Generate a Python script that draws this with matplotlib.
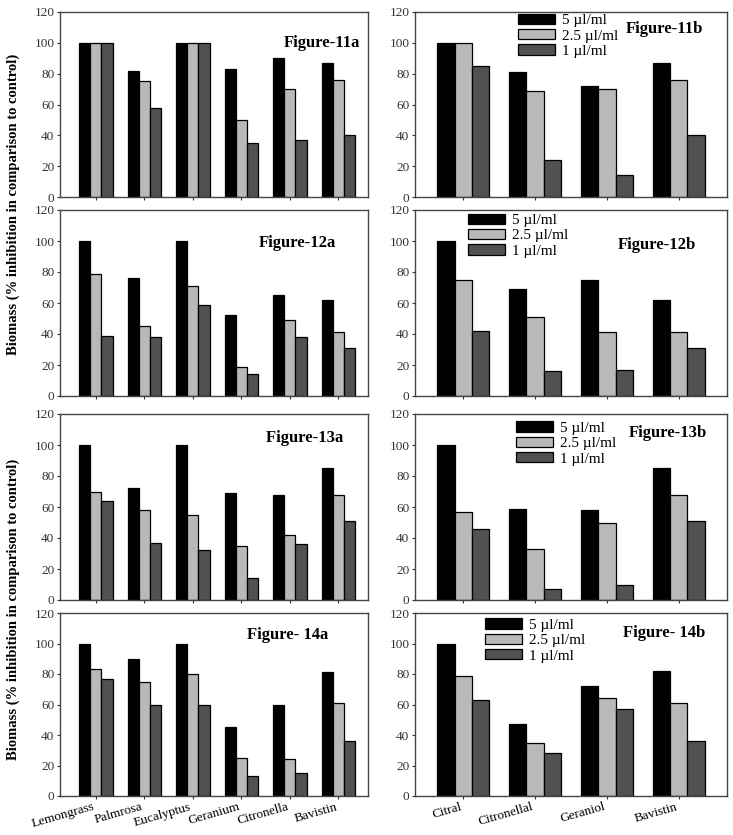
import matplotlib
matplotlib.use("Agg")
import matplotlib.pyplot as plt
import matplotlib.transforms as mtransforms
import numpy as np

plt.rcParams['font.family'] = ['Liberation Serif', 'DejaVu Serif']

oils = ["Lemongrass", "Palmrosa", "Eucalyptus", "Geranium", "Citronella", "Bavistin"]
compounds = ["Citral", "Citronellal", "Geraniol", "Bavistin"]
doses = ["5 µl/ml", "2.5 µl/ml", "1 µl/ml"]
colors = ["#000000", "#b9b9b9", "#515151"]

# values per panel: [5, 2.5, 1] series
fig11a = [[100, 82, 100, 83, 90, 87], [100, 75, 100, 50, 70, 76], [100, 58, 100, 35, 37, 40]]
fig11b = [[100, 81, 72, 87], [100, 69, 70, 76], [85, 24, 14, 40]]
fig12a = [[100, 76, 100, 52, 65, 62], [79, 45, 71, 19, 49, 41], [39, 38, 59, 14, 38, 31]]
fig12b = [[100, 69, 75, 62], [75, 51, 41, 41], [42, 16, 17, 31]]
fig13a = [[100, 72, 100, 69, 68, 85], [70, 58, 55, 35, 42, 68], [64, 37, 32, 14, 36, 51]]
fig13b = [[100, 59, 58, 85], [57, 33, 50, 68], [46, 7, 10, 51]]
fig14a = [[100, 90, 100, 45, 60, 81], [83, 75, 80, 25, 24, 61], [77, 60, 60, 13, 15, 36]]
fig14b = [[100, 47, 72, 82], [79, 35, 64, 61], [63, 28, 57, 36]]

titles_a = ["Figure-11a", "Figure-12a", "Figure-13a ", "Figure- 14a"]
titles_b = ["Figure-11b", "Figure-12b", "Figure-13b", "Figure- 14b"]
yticks = [0, 20, 40, 60, 80, 100, 120]

W, H = 733, 835
fig = plt.figure(figsize=(W / 100, H / 100), dpi=100)

rows_px = [(12, 197), (210, 396), (414, 600), (613, 796)]
left_px = (60, 368)
right_px = (415, 727)

title_pos_a = [(0.975, 0.83, 'right'), (0.77, 0.82, 'center'), (0.80, 0.87, 'center'), (0.74, 0.88, 'center')]
title_pos_b = [(0.80, 0.91, 'center'), (0.775, 0.81, 'center'), (0.81, 0.90, 'center'), (0.80, 0.89, 'center')]
legend_pos = [(0.33, 0.99), (0.17, 0.98), (0.325, 0.96), (0.225, 0.97)]


def make_ax(xpx, ypx):
    x0, x1 = xpx
    t, b = ypx
    return fig.add_axes([x0 / W, 1 - b / H, (x1 - x0) / W, (b - t) / H])


def draw(ax, cats, data, bw, xlim, show_labels, shift_px):
    x = np.arange(len(cats))
    for i, (vals, c) in enumerate(zip(data, colors)):
        ax.bar(x + (i - 1) * bw, vals, bw, color=c, edgecolor="black",
               linewidth=0.9, label=doses[i], zorder=2)
    ax.set_xlim(*xlim)
    ax.set_ylim(0, 120)
    ax.set_yticks(yticks)
    ax.set_xticks(x)
    if show_labels:
        labs = ax.set_xticklabels(cats, rotation=16, fontsize=9.5, ha='right')
        off = mtransforms.ScaledTranslation(shift_px / 100, 0, fig.dpi_scale_trans)
        for lab in labs:
            lab.set_transform(lab.get_transform() + off)
    else:
        ax.set_xticklabels([])
    ax.tick_params(axis='y', labelsize=9.5, colors='#333333', length=2, width=0.8, pad=2)
    ax.tick_params(axis='x', length=2.5, width=0.8, colors='#333333', labelcolor='black', pad=1)
    for s in ax.spines.values():
        s.set_color('#444444')
        s.set_linewidth(1.0)


for r in range(4):
    axa = make_ax(left_px, rows_px[r])
    da = [fig11a, fig12a, fig13a, fig14a][r]
    draw(axa, oils, da, 0.23, (-0.74, 5.61), r == 3, -4)
    tx, ty, ha = title_pos_a[r]
    axa.text(tx, ty, titles_a[r], transform=axa.transAxes, ha=ha, va='center',
             fontsize=12, fontweight='bold')

    axb = make_ax(right_px, rows_px[r])
    db = [fig11b, fig12b, fig13b, fig14b][r]
    draw(axb, compounds, db, 0.24, (-0.67, 3.67), r == 3, 2)
    tx, ty, ha = title_pos_b[r]
    axb.text(tx, ty, titles_b[r], transform=axb.transAxes, ha=ha, va='center',
             fontsize=12, fontweight='bold')
    lx, ly = legend_pos[r]
    axb.legend(loc='upper left', bbox_to_anchor=(lx, ly), frameon=False,
               fontsize=11, handlelength=2.4, handleheight=0.65,
               labelspacing=0.12, handletextpad=0.45, borderpad=0.0,
               borderaxespad=0.0)

ylab = "Biomass (% inhibition in comparison to control)"
fig.text(13 / W, 0.755, ylab, rotation=90, ha='center', va='center',
         fontsize=10.5, fontweight='bold')
fig.text(13 / W, 0.27, ylab, rotation=90, ha='center', va='center',
         fontsize=10.5, fontweight='bold')

fig.savefig("out.png", dpi=100)
